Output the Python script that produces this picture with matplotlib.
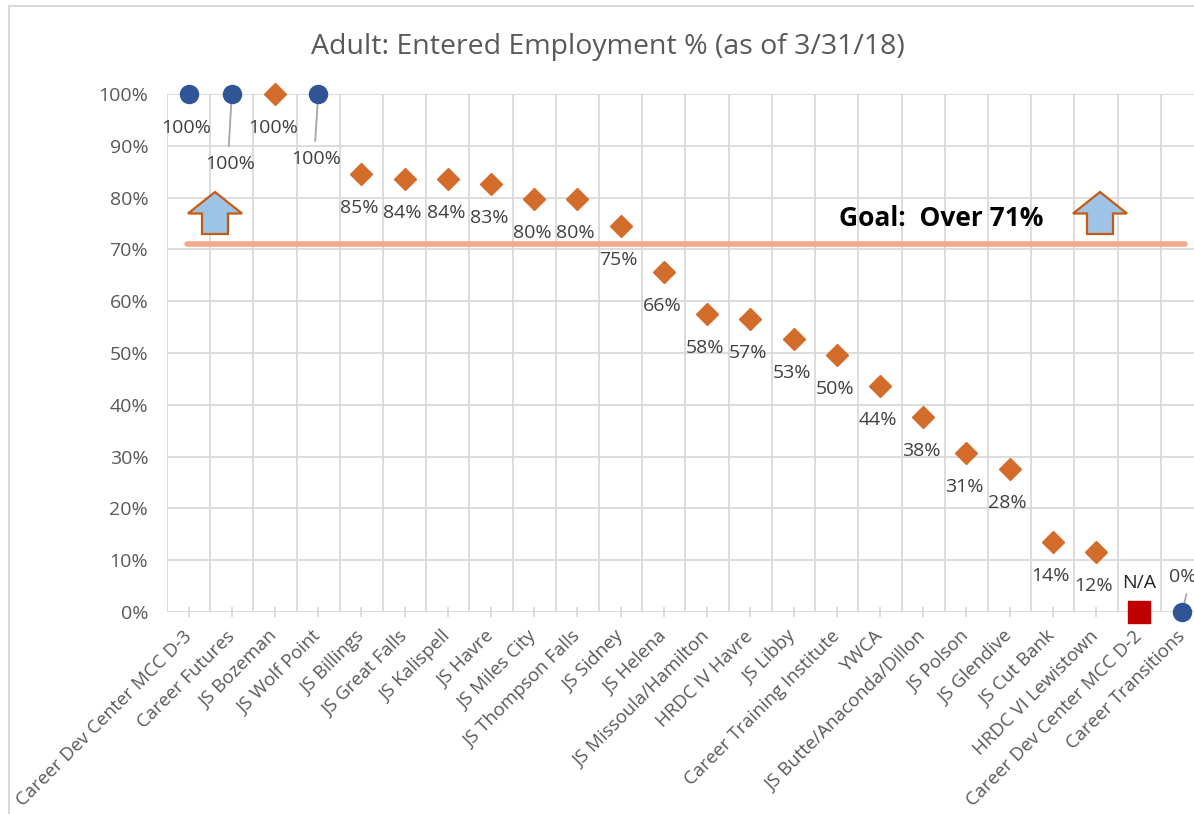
import matplotlib
matplotlib.use("Agg")
import matplotlib.pyplot as plt
from matplotlib.patches import Polygon, Rectangle
from matplotlib.ticker import PercentFormatter

categories = [
    "Career Dev Center MCC D-3", "Career Futures", "JS Bozeman", "JS Wolf Point",
    "JS Billings", "JS Great Falls", "JS Kalispell", "JS Havre", "JS Miles City",
    "JS Thompson Falls", "JS Sidney", "JS Helena", "JS Missoula/Hamilton",
    "HRDC IV Havre", "JS Libby", "Career Training Institute", "YWCA",
    "JS Butte/Anaconda/Dillon", "JS Polson", "JS Glendive", "JS Cut Bank",
    "HRDC VI Lewistown", "Career Dev Center MCC D-2", "Career Transitions",
]
# None = N/A
values = [1.00, 1.00, 1.00, 1.00, 0.846, 0.836, 0.836, 0.826, 0.797, 0.797,
          0.746, 0.656, 0.576, 0.566, 0.527, 0.496, 0.436, 0.376, 0.307, 0.276,
          0.136, 0.116, None, 0.00]
# marker group per category: "circle", "diamond", "na"
groups = ["circle", "circle", "diamond", "circle"] + ["diamond"] * 18 + ["na", "circle"]
goal = 0.71
goal_text = "Goal:  Over 71%"
title = "Adult: Entered Employment % (as of 3/31/18)"
yticks = [0, 0.1, 0.2, 0.3, 0.4, 0.5, 0.6, 0.7, 0.8, 0.9, 1.0]

W, H = 1194, 814
FONT = "Open Sans"
plt.rcParams["font.family"] = [FONT, "DejaVu Sans"]

fig = plt.figure(figsize=(W / 100, H / 100), dpi=100)

def fx(px):
    return px / W

def fy(py):
    return 1 - py / H

# chart border
fig.patches.append(Rectangle((fx(9), fy(900)), 2, fy(6) - fy(900), transform=fig.transFigure,
                             fill=False, edgecolor="#D9D9D9", linewidth=1.5))

left, right, top, bottom = 167, 1204, 94, 612
ax = fig.add_axes([fx(left), fy(bottom), fx(right - left), fy(top) - fy(bottom)])
n = len(categories)
ax.set_xlim(-0.5, n - 0.5)
ax.set_ylim(0, 1)
for s in ax.spines.values():
    s.set_visible(False)

grid_c = "#D9D9D9"
LAB = 14
ax.set_yticks(yticks)
ax.yaxis.set_major_formatter(PercentFormatter(1.0, decimals=0))
ax.tick_params(axis="y", length=0, pad=13.5, labelsize=LAB, labelcolor="#595959")
for yv in yticks:
    ax.axhline(yv, color=grid_c, linewidth=1.3, zorder=0)
for k in range(n + 1):
    ax.axvline(k - 0.5, color=grid_c, linewidth=1.3, zorder=0)

ax.set_xticks(range(n))
ax.set_xticklabels(categories, rotation=45, ha="right", va="center", rotation_mode="anchor")
ax.tick_params(axis="x", direction="inout", length=7, width=1.3, color=grid_c,
               pad=12, labelsize=13.4, labelcolor="#595959")

blue = "#2F5597"
orange = "#D36B2B"
red = "#C00000"
lab_c = "#404040"

for i, (v, g) in enumerate(zip(values, groups)):
    if g == "circle":
        ax.plot(i, v, "o", color=blue, markersize=13, clip_on=False, zorder=5)
    elif g == "diamond":
        ax.plot(i, v, "D", color=orange, markersize=11, clip_on=False, zorder=5)
    else:
        ax.plot(i, 0, "s", color=red, markersize=16.5, clip_on=False, zorder=5)

# data labels
lead = {1: (-2, -70, -52), 3: (-2, -65, -47)}  # idx: (dx px, label dy px, line end dy px)
for i, (v, g) in enumerate(zip(values, groups)):
    if v is None:
        ax.annotate("N/A", (i, 0), xytext=(0, 29), textcoords="offset pixels",
                    ha="center", va="center", fontsize=LAB, color="#262626")
        continue
    txt = f"{round(v * 100):d}%"
    if i == n - 1:
        ax.annotate(txt, (i, v), xytext=(0, 35), textcoords="offset pixels",
                    ha="center", va="center", fontsize=LAB, color=lab_c, annotation_clip=False)
        ax.annotate("", (i, v), xytext=(4, 18), textcoords="offset pixels",
                    arrowprops=dict(arrowstyle="-", color="#A6A6A6", lw=1.3, shrinkA=0, shrinkB=0),
                    annotation_clip=False)
        continue
    if i in lead:
        dx, dy, ly = lead[i]
        ax.annotate(txt, (i, v), xytext=(dx, dy), textcoords="offset pixels",
                    ha="center", va="center", fontsize=LAB, color=lab_c, annotation_clip=False)
        ax.annotate("", (i, v), xytext=(dx - 1, ly), textcoords="offset pixels",
                    arrowprops=dict(arrowstyle="-", color="#A6A6A6", lw=1.3, shrinkA=0, shrinkB=0),
                    annotation_clip=False)
        continue
    ax.annotate(txt, (i, v), xytext=(-2, -34), textcoords="offset pixels",
                ha="center", va="center", fontsize=LAB, color=lab_c, annotation_clip=False)

# goal line
ax.plot([-0.04, n - 0.94], [goal, goal], color="#F4A98A", linewidth=4, solid_capstyle="round", zorder=3)
fig.text(fx(941), fy(218), goal_text, ha="center", va="center", fontsize=19,
         fontweight="bold", color="black")

# up arrows
def up_arrow(cx):
    pts = [(cx, 192), (cx + 27, 213.5), (cx + 13, 213.5), (cx + 13, 234),
           (cx - 13, 234), (cx - 13, 213.5), (cx - 27, 213.5)]
    poly = Polygon([(fx(x), fy(y)) for x, y in pts], closed=True, transform=fig.transFigure,
                   facecolor="#9DC3E6", edgecolor="#C55A11", linewidth=1.6, zorder=6)
    fig.patches.append(poly)

up_arrow(215)
up_arrow(1100)

fig.text(fx(608), fy(47), title, ha="center", va="center", fontsize=20.5, color="#595959")

fig.savefig("out.png", dpi=100)
